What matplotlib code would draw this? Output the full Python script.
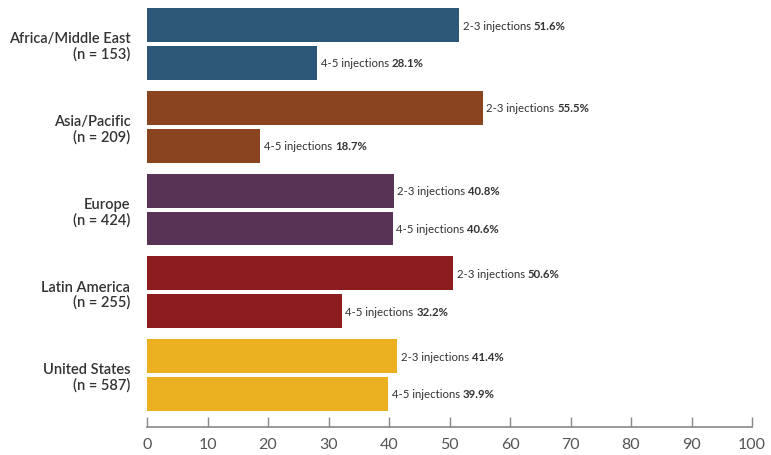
import matplotlib
matplotlib.use("Agg")
import matplotlib.pyplot as plt

regions = ["Africa/Middle East\n(n = 153)", "Asia/Pacific\n(n = 209)", "Europe\n(n = 424)",
           "Latin America\n(n = 255)", "United States\n(n = 587)"]
inj_23 = [51.6, 55.5, 40.8, 50.6, 41.4]
inj_45 = [28.1, 18.7, 40.6, 32.2, 39.9]
colors = ["#2C5777", "#8B4420", "#583355", "#8C1C1D", "#EAB020"]
xticks = [0, 10, 20, 30, 40, 50, 60, 70, 80, 90, 100]

plt.rcParams['font.family'] = ['Lato', 'DejaVu Sans']

fig = plt.figure(figsize=(7.71, 4.56), dpi=100)
ax = fig.add_axes([147/771, 28/456, (752-147)/771, 428/456])

h = 0.41
off = 0.229
ys = list(range(len(regions)))
ax.barh([y - off for y in ys], inj_23, height=h, color=colors)
ax.barh([y + off for y in ys], inj_45, height=h, color=colors)

for y, v1, v2 in zip(ys, inj_23, inj_45):
    for yy, v, lab in ((y - off, v1, "2-3 injections "), (y + off, v2, "4-5 injections ")):
        t = ax.text(v + 0.6, yy, lab, va='center', ha='left', fontsize=8.2, color='#333333')
        ax.annotate(f"{v}%", xy=(1, 0.5), xycoords=t, va='center', ha='left',
                    fontsize=8.2, fontweight='bold', color='#333333')

ax.set_yticks(ys)
ax.set_yticklabels(regions, fontsize=10.5, color='#333333', fontweight='semibold', linespacing=1.1)
ax.tick_params(axis='y', length=0, pad=12)
ax.set_ylim(4.628, -0.544)
ax.set_xlim(0, 100)
ax.set_xticks(xticks)
ax.tick_params(axis='x', direction='in', length=7, color='#888888', labelcolor='#555555',
               labelsize=11.5, pad=7, width=1)
for s in ['top', 'right', 'left']:
    ax.spines[s].set_visible(False)
ax.spines['bottom'].set_color('#888888')
ax.spines['bottom'].set_linewidth(1.2)

fig.savefig("out.png", dpi=100)
